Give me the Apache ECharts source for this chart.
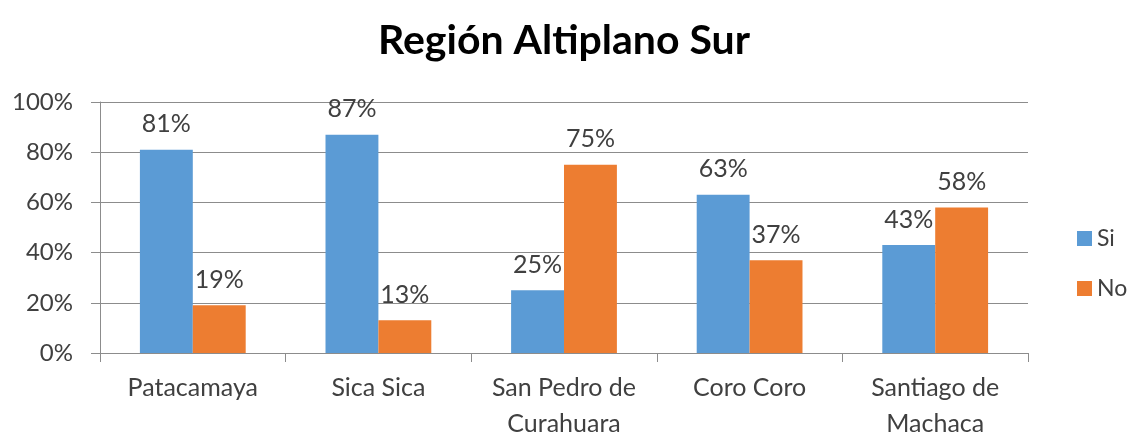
<!DOCTYPE html>
<html>
<head>
<meta charset="utf-8">
<script src="https://cdn.jsdelivr.net/npm/echarts@6/dist/echarts.min.js"></script>
<style>
  html, body { margin: 0; padding: 0; background: #fff; }
  #chart { width: 1128px; height: 436px; }
</style>
</head>
<body>
<div id="chart"></div>
<script>
// datos
const categories = ['Patacamaya', 'Sica Sica', 'San Pedro de\nCurahuara', 'Coro Coro', 'Santiago de\nMachaca'];
const siValues = [81, 87, 25, 63, 43];
const noValues = [19, 13, 75, 37, 58];
const yTicks = [0, 20, 40, 60, 80, 100];

const font = 'Lato, "Open Sans", sans-serif';
const textColor = '#404040';
const gridColor = '#8c8c8c';

const chart = echarts.init(document.getElementById('chart'));

const labelStyle = {
    show: true,
    position: 'top',
    distance: 13,
    formatter: '{c}%',
    fontFamily: font,
    fontSize: 25,
    color: textColor
};

chart.setOption({
    animation: false,
    title: {
        text: 'Región Altiplano Sur',
        left: 'center',
        top: 15,
        textStyle: {
            fontFamily: font,
            fontWeight: 'bold',
            fontSize: 41,
            color: '#000'
        }
    },
    legend: {
        orient: 'vertical',
        left: 1072,
        top: 222,
        itemWidth: 15,
        itemHeight: 15,
        itemGap: 27,
        icon: 'rect',
        textStyle: { fontFamily: font, fontSize: 23, color: textColor },
        data: ['Si', 'No']
    },
    grid: {
        left: 100,
        right: 100,
        top: 102,
        bottom: 83,
        outerBoundsMode: 'none'
    },
    xAxis: {
        type: 'category',
        data: categories,
        axisLine: { lineStyle: { color: gridColor, width: 1 } },
        axisTick: { show: true, length: 9, lineStyle: { color: gridColor } },
        axisLabel: {
            fontFamily: font,
            fontSize: 25,
            color: textColor,
            lineHeight: 36,
            margin: 17,
            interval: 0
        }
    },
    yAxis: {
        type: 'value',
        min: yTicks[0],
        max: yTicks[yTicks.length - 1],
        interval: 20,
        axisLine: { show: true, lineStyle: { color: gridColor, width: 1 } },
        axisTick: { show: true, length: 9, lineStyle: { color: gridColor } },
        splitLine: { lineStyle: { color: gridColor, width: 1 } },
        axisLabel: {
            formatter: '{value}%',
            fontFamily: font,
            fontSize: 24,
            color: textColor,
            margin: 27
        }
    },
    series: [
        {
            name: 'Si',
            type: 'bar',
            data: siValues,
            barCategoryGap: '43%',
            barGap: '0%',
            itemStyle: { color: '#5B9BD5' },
            label: labelStyle
        },
        {
            name: 'No',
            type: 'bar',
            data: noValues,
            barCategoryGap: '43%',
            barGap: '0%',
            itemStyle: { color: '#ED7D31' },
            label: labelStyle
        }
    ]
});
</script>
</body>
</html>
